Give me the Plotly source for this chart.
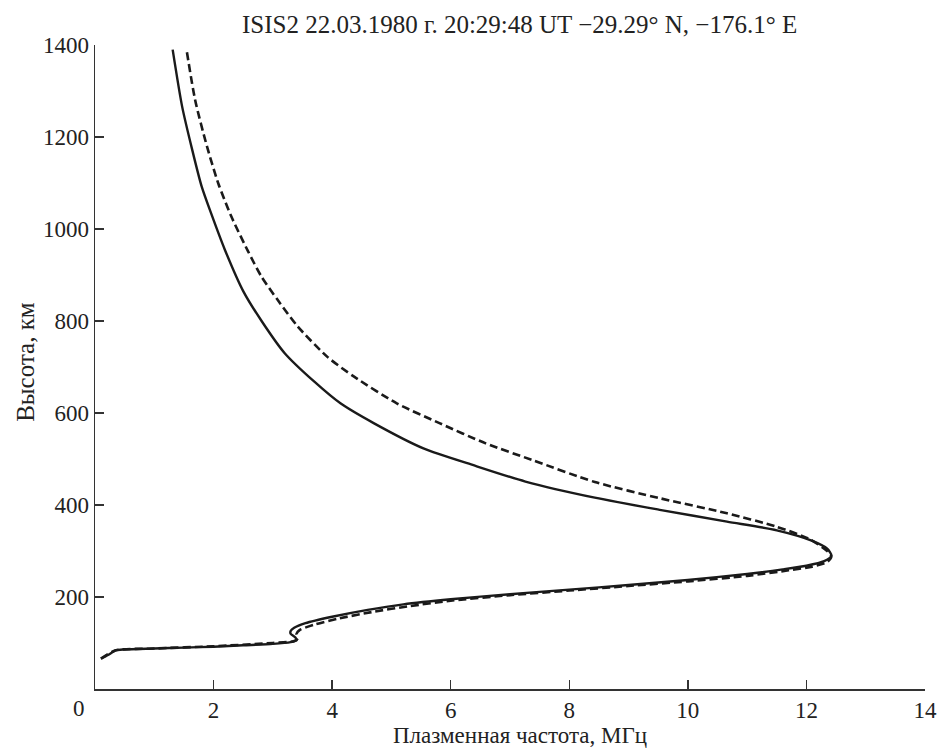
import plotly.graph_objects as go

# Solid profile: plasma frequency (MHz) vs height (km)
solid_f = [0.10, 0.22, 0.35, 0.5, 1.0, 1.5, 2.0, 2.5, 3.0, 3.3, 3.40, 3.38, 3.30, 3.30, 3.36, 3.55,
           4.0, 4.6, 5.2, 6.0, 7.0, 8.0, 9.0, 10.0, 11.0, 11.6, 12.0, 12.3, 12.42, 12.35, 12.1,
           11.5, 10.66, 9.55, 8.43, 7.26, 6.37, 5.54, 4.70, 4.14, 3.70, 3.20, 2.81, 2.50,
           2.19, 1.97, 1.80, 1.64, 1.47, 1.31]
solid_h = [66, 74, 84, 86, 88, 90, 92, 95, 98, 102, 106, 112, 120, 126, 133, 143,
           157, 172, 184, 195, 206, 216, 226, 237, 250, 260, 268, 278, 290, 305, 322,
           345, 364, 389, 416, 451, 487, 523, 578, 621, 668, 730, 800, 865,
           955, 1030, 1092, 1172, 1266, 1390]

# Dashed profile
dash_f = [0.10, 0.35, 1.0, 2.0, 3.0, 3.35, 3.42, 3.40, 3.45, 3.7, 4.1, 4.7, 5.3, 6.0, 7.0,
          8.0, 9.0, 10.0, 11.0, 11.7, 12.1, 12.35, 12.42, 12.35, 12.05, 11.49, 10.66, 9.55,
          8.43, 7.37, 6.59, 5.81, 5.09, 4.37, 3.92, 3.42, 3.08, 2.81, 2.58, 2.30, 2.08,
          1.89, 1.69, 1.54]
dash_h = [66, 84, 88, 93, 100, 104, 110, 120, 128, 140, 153, 168, 180, 192, 204,
          214, 224, 234, 246, 258, 266, 276, 288, 300, 326, 353, 382, 414,
          450, 498, 534, 578, 621, 679, 722, 788, 846, 896, 952, 1027, 1099,
          1179, 1280, 1393]

x_ticks = [2, 4, 6, 8, 10, 12, 14]
y_ticks = [200, 400, 600, 800, 1000, 1200, 1400]

title_text = "ISIS2 22.03.1980 г. 20:29:48 UT −29.29° N, −176.1° E"
x_title = "Плазменная частота, МГц"
y_title = "Высота, км"

FONT = "Liberation Serif, Times New Roman, serif"
TXT = "#222"

fig = go.Figure()
fig.add_trace(go.Scatter(x=dash_f, y=dash_h, mode="lines",
                         line=dict(color="#1a1a1a", width=2.6, dash="8px,4px",
                                   shape="spline", smoothing=0.7),
                         showlegend=False, hoverinfo="skip"))
fig.add_trace(go.Scatter(x=solid_f, y=solid_h, mode="lines",
                         line=dict(color="#1a1a1a", width=2.4,
                                   shape="spline", smoothing=0.7),
                         showlegend=False, hoverinfo="skip"))

axis_common = dict(ticks="inside", ticklen=9, tickcolor="#333", tickwidth=1.3,
                   showline=True, linecolor="#333", linewidth=1.5,
                   showgrid=False, zeroline=False,
                   tickfont=dict(family=FONT, size=23, color=TXT))

fig.update_layout(
    width=949, height=749,
    margin=dict(l=95, r=16, t=45, b=60),
    paper_bgcolor="white", plot_bgcolor="white",
    font=dict(family=FONT, size=23, color=TXT),
    showlegend=False,
    hovermode=False,
    xaxis=dict(range=[0, 14], tickvals=x_ticks, **axis_common),
    yaxis=dict(range=[0, 1400], tickvals=y_ticks, **axis_common),
    annotations=[
        dict(text=title_text, xref="paper", yref="paper", x=0.512, y=1.0,
             yshift=21, showarrow=False, xanchor="center", yanchor="middle",
             font=dict(family=FONT, size=25, color=TXT)),
        dict(text="0", xref="paper", yref="paper", x=-0.019, y=0,
             yshift=-19, showarrow=False, xanchor="center", yanchor="middle",
             font=dict(family=FONT, size=23, color=TXT)),
        dict(text=x_title, xref="paper", yref="paper", x=0.512, y=0,
             yshift=-46, showarrow=False, xanchor="center", yanchor="middle",
             font=dict(family=FONT, size=23, color=TXT)),
        dict(text=y_title, xref="paper", yref="paper", x=0, xshift=-69,
             y=0.508, showarrow=False, textangle=-90, xanchor="center",
             yanchor="middle", font=dict(family=FONT, size=25, color=TXT)),
    ],
)

fig.write_html("out.html",
               config={"displayModeBar": False, "staticPlot": True},
               post_script="document.body.style.margin='0';document.body.style.padding='0';")
